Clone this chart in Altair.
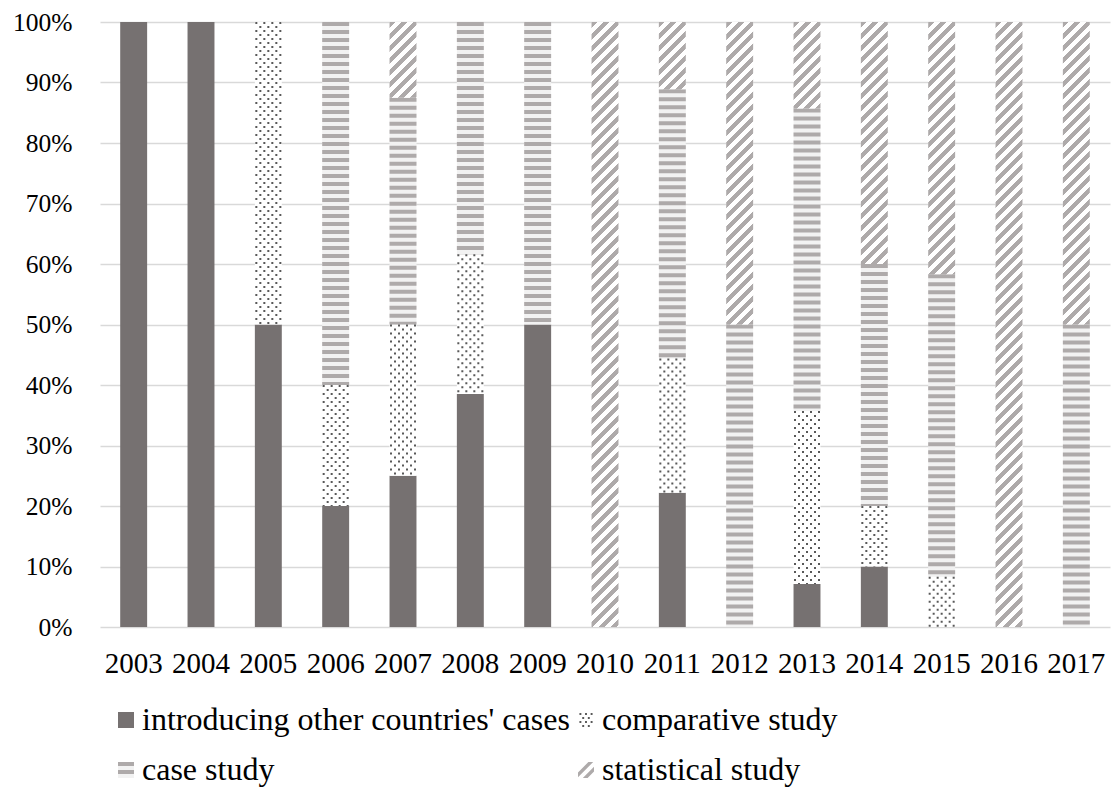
import altair as alt
import pandas as pd

FONT = "Liberation Serif"

years = [str(y) for y in range(2003, 2018)]
categories = ["introducing other countries' cases", "comparative study",
              "case study", "statistical study"]
intro = [100, 100, 50, 20, 25, 38.5, 50, 0, 22.2, 0, 7.1, 10, 0, 0, 0]
comp = [0, 0, 50, 20, 25, 23.1, 0, 0, 22.2, 0, 28.6, 10, 8.3, 0, 0]
case = [0, 0, 0, 60, 37.5, 38.4, 50, 0, 44.5, 50, 50, 40, 50, 0, 50]
stat = [0, 0, 0, 0, 12.5, 0, 0, 100, 11.1, 50, 14.3, 40, 41.7, 100, 50]
y_ticks = list(range(0, 101, 10))

series = [intro, comp, case, stat]
rows = []
for i, yr in enumerate(years):
    for k, (cat, vals) in enumerate(zip(categories, series)):
        if vals[i] > 0:
            rows.append({"year": yr, "cat": cat, "order": k, "value": vals[i]})
df = pd.DataFrame(rows)

W, H = 1010, 605
BW = W / len(years) * 0.4

DARK = "#767171"
STRIPE = "#aeaaaa"
DOT = "#595959"

base = alt.Chart(df).transform_stack(
    stack="value", groupby=["year"], sort=[alt.SortField("order")], as_=["y0", "y1"]
)

x = alt.X("year:O",
          scale=alt.Scale(domain=years, paddingInner=0.6, paddingOuter=0.3),
          axis=alt.Axis(title=None, labelAngle=0, labelFontSize=29, labelPadding=22,
                        ticks=False, domain=False, grid=False))
y = alt.Y("y1:Q",
          scale=alt.Scale(domain=[0, 100], nice=False, zero=True),
          axis=alt.Axis(title=None, values=y_ticks, labelExpr="datum.value + '%'",
                        labelFontSize=25.5, labelPadding=28, ticks=False, domain=False,
                        grid=True, gridColor="#d9d9d9", gridWidth=1.5))
y2 = alt.Y2("y0:Q")

layers = []
# opaque background of every segment
layers.append(base.mark_bar().encode(
    x=x, y=y, y2=y2,
    color=alt.Color("cat:N", scale=alt.Scale(domain=categories,
                                            range=[DARK, "#ffffff", "#f2f2f2", "#ffffff"]),
                    legend=None)))

# horizontal stripes: case study
layers.append(base.transform_filter(alt.datum.cat == "case study").mark_rule(
    strokeWidth=BW, strokeDash=[4, 4], color=STRIPE, strokeCap="butt"
).encode(x=x, y=y, y2=y2))

# dots: comparative study
for j, off in enumerate([-12, -8, -4, 0, 4, 8, 12]):
    layers.append(base.transform_filter(alt.datum.cat == "comparative study").mark_rule(
        xOffset=off, strokeWidth=2, strokeDash=[2, 6], strokeDashOffset=4 * (j % 2),
        color=DOT, strokeCap="butt"
    ).encode(x=x, y=y, y2=y2))


def diag_grad(w, h, period=12.0, fg=STRIPE, bg="#ffffff"):
    L = w + h
    k = L * w * h / (w * w + h * h)
    stops = []
    pos = 0.0
    while pos < L:
        a = pos / L
        b = min((pos + period / 2) / L, 1.0)
        c = min((pos + period) / L, 1.0)
        stops += [(a, fg), (b, fg), (b, bg), (c, bg)]
        pos += period
    return alt.LinearGradient(
        gradient="linear", x1=0, y1=0, x2=round(k / h, 6), y2=round(k / w, 6),
        stops=[alt.GradientStop(offset=round(o, 5), color=c) for o, c in stops])


# diagonal stripes: statistical study
for i, yr in enumerate(years):
    if stat[i] > 0:
        h = stat[i] / 100 * H
        layers.append(base.transform_filter(
            (alt.datum.cat == "statistical study") & (alt.datum.year == yr)
        ).mark_bar(fill=diag_grad(BW, h)).encode(x=x, y=y, y2=y2))


# ---- legend (drawn as marks) ----
def squares(centers, s):
    parts = []
    for cx, cy in centers:
        parts.append(f"M{cx - s:.3f},{cy - s:.3f}L{cx + s:.3f},{cy - s:.3f}"
                     f"L{cx + s:.3f},{cy + s:.3f}L{cx - s:.3f},{cy + s:.3f}Z")
    return "".join(parts)


dot_centers = []
for r, cy in enumerate([-0.75, -0.25, 0.25, 0.75]):
    xs = [-0.7, 0.0, 0.7] if r % 2 == 0 else [-0.35, 0.35]
    dot_centers += [(cx, cy) for cx in xs]
comp_path = squares(dot_centers, 0.12)
case_path = "M-1,-1L1,-1L1,-0.5L-1,-0.5ZM-1,0L1,0L1,0.5L-1,0.5Z"
stat_path = "M-1,0.3L0.3,-1L0.9,-1L-1,0.9ZM-0.4,1L1,-0.4L1,0.2L0.2,1Z"
sym_shapes = ["square", comp_path, case_path, stat_path]
sym_colors = [DARK, DOT, STRIPE, STRIPE]

leg_df = pd.DataFrame({"cat": categories})
SYM_X = [26, 486]      # symbol centres, px from plot left
TXT_X = [42, 502]      # label starts
SYM_Y = [698, 748]     # symbol centres, px from plot top
for idx, cat in enumerate(categories):
    col, row = idx % 2, idx // 2
    one = alt.Chart(leg_df).transform_filter(alt.datum.cat == cat)
    if idx == 2:
        layers.append(one.mark_point(shape="square", size=256, filled=True,
                                     opacity=1, color="#f2f2f2", strokeWidth=0).encode(
            x=alt.value(SYM_X[col]), y=alt.value(SYM_Y[row])))
    layers.append(one.mark_point(shape=sym_shapes[idx], size=256, filled=True,
                                 opacity=1, color=sym_colors[idx], strokeWidth=0).encode(
        x=alt.value(SYM_X[col]), y=alt.value(SYM_Y[row])))
    layers.append(one.mark_text(align="left", baseline="alphabetic", fontSize=32,
                                font=FONT, color="black").encode(
        text="cat:N", x=alt.value(TXT_X[col]), y=alt.value(SYM_Y[row] + 10)))

chart = alt.layer(*layers).properties(
    width=W, height=H,
    autosize=alt.AutoSizeParams(type="none"),
    padding={"left": 100, "top": 22, "right": 2, "bottom": 162},
).configure(font=FONT).configure_view(stroke=None).configure_axis(
    labelFont=FONT, labelColor="black"
)

chart.save("out.html", embed_options={"renderer": "svg", "actions": False})
